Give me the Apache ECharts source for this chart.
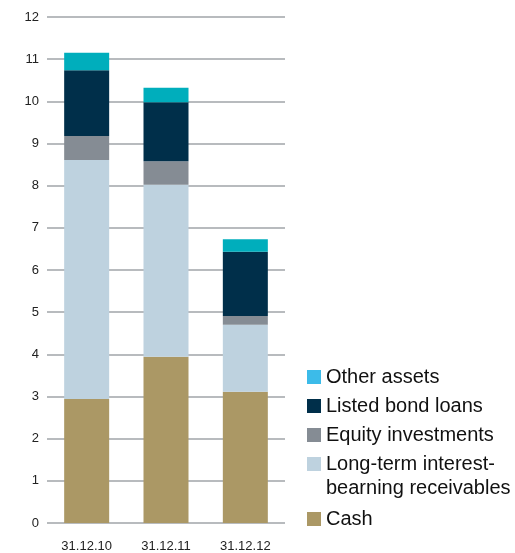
<!DOCTYPE html>
<html>
<head>
<meta charset="utf-8">
<script src="https://cdn.jsdelivr.net/npm/echarts@6/dist/echarts.min.js"></script>
<style>html,body{margin:0;padding:0;background:#fff;}#c{width:515px;height:553px;}</style>
</head>
<body>
<div id="c"></div>
<script>
const categories = ['31.12.10', '31.12.11', '31.12.12'];
const cash = [2.94, 3.94, 3.11];
const longTerm = [5.67, 4.08, 1.59];
const equity = [0.57, 0.56, 0.21];
const bonds = [1.56, 1.40, 1.52];
const other = [0.41, 0.34, 0.30];
const yTicks = [0, 1, 2, 3, 4, 5, 6, 7, 8, 9, 10, 11, 12];

const names = ['Cash', 'Long-term interest-bearning receivables', 'Equity investments', 'Listed bond loans', 'Other assets'];
const barColors = ['#ab9865', '#bed2df', '#858c94', '#002f4a', '#00aebc'];
const legendColors = ['#ab9865', '#bed2df', '#858c94', '#002f4a', '#3cbbe9'];
const values = [cash, longTerm, equity, bonds, other];

const font = '"Liberation Sans", Arial, Helvetica, sans-serif';
const chart = echarts.init(document.getElementById('c'));
chart.setOption({
  animation: false,
  grid: { left: 47, right: 230, top: 17, bottom: 30, containLabel: false, outerBoundsMode: 'none' },
  xAxis: {
    type: 'category', data: categories,
    axisLine: { show: false }, axisTick: { show: false },
    axisLabel: { color: '#222', fontSize: 13, fontFamily: font, margin: 17 }
  },
  yAxis: {
    type: 'value', min: 0, max: 12, interval: 1,
    axisLine: { show: false }, axisTick: { show: false },
    axisLabel: { color: '#222', fontSize: 13, fontFamily: font, margin: 8,
      formatter: v => yTicks.includes(v) ? String(v) : '' },
    splitLine: { lineStyle: { color: '#a0a4a8', width: 1.5 } }
  },
  legend: [
    {
      orient: 'vertical', left: 307, top: 367, padding: 0, itemWidth: 14, itemHeight: 14, itemGap: 9,
      icon: 'rect',
      data: [4, 3, 2, 1].map(i => ({ name: names[i], itemStyle: { color: legendColors[i] } })),
      formatter: n => n === names[1] ? 'Long-term interest-' : n,
      textStyle: { fontSize: 20, fontFamily: font, color: '#111', lineHeight: 20 },
      selectedMode: false
    },
    {
      orient: 'vertical', left: 307, top: 509, padding: 0, itemWidth: 14, itemHeight: 14,
      icon: 'rect',
      data: [{ name: names[0], itemStyle: { color: legendColors[0] } }],
      textStyle: { fontSize: 20, fontFamily: font, color: '#111', lineHeight: 20 },
      selectedMode: false
    }
  ],
  graphic: [{
    type: 'text', left: 326, top: 478,
    style: { text: 'bearning receivables', fontSize: 20, fontFamily: font, fill: '#111' }
  }],
  series: names.map((n, i) => ({
    name: n, type: 'bar', stack: 'total', barWidth: 45,
    data: values[i],
    itemStyle: { color: barColors[i] }
  }))
});
</script>
</body>
</html>
